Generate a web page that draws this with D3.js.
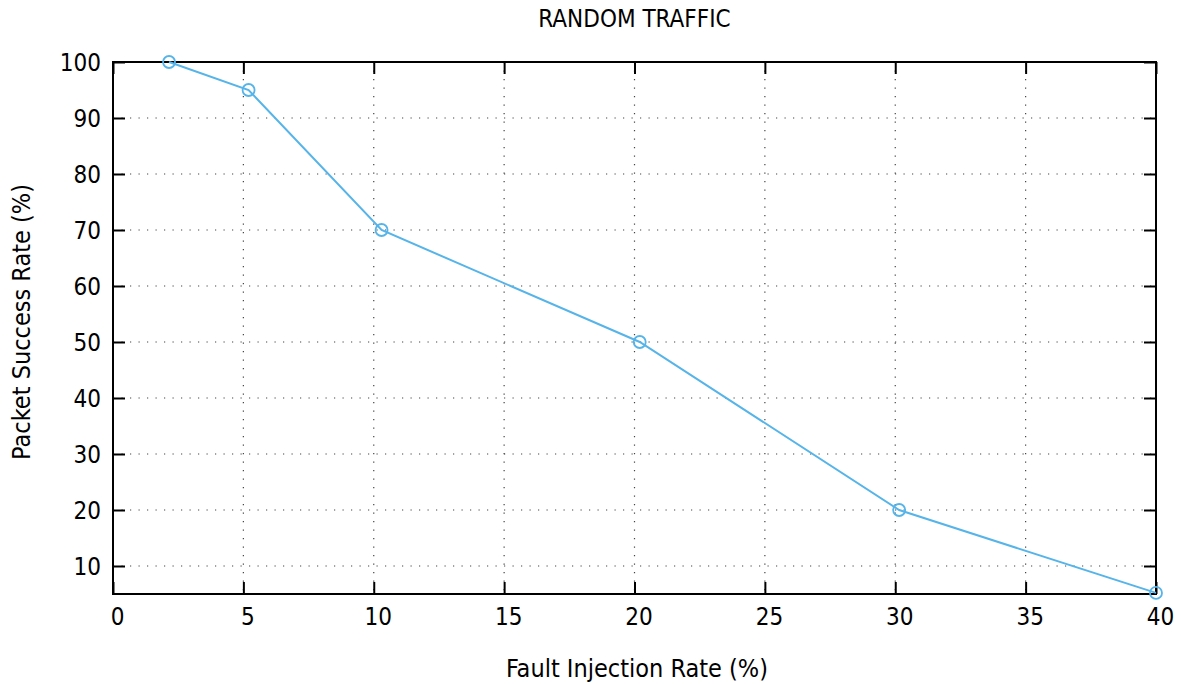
<!DOCTYPE html>
<html>
<head>
<meta charset="utf-8">
<script src="https://cdn.jsdelivr.net/npm/d3@7"></script>
<style>
  html, body { margin: 0; padding: 0; background: #fff; }
  svg { display: block; font-family: "DejaVu Sans Condensed", "DejaVu Sans", sans-serif; font-stretch: condensed; }
  text { fill: #000; }
</style>
</head>
<body>
<svg id="chart" width="1181" height="684"></svg>
<script>
// Packet success rate under random traffic as fault injection increases
const faultRate = [2.15, 5.2, 10.3, 20.2, 30.15, 40];
const successRate = [100, 95, 70, 50, 20, 5.2];
const xTicks = [0, 5, 10, 15, 20, 25, 30, 35, 40];
const yTicks = [10, 20, 30, 40, 50, 60, 70, 80, 90, 100];

const svg = d3.select("#chart");
const plotLeft = 113, plotRight = 1156, plotTop = 62, plotBottom = 594;
const fontSize = 24;
const labelSize = 25;

const x = d3.scaleLinear().domain([0, 40]).range([plotLeft, plotRight]);
const y = d3.scaleLinear().domain([5, 100]).range([plotBottom, plotTop]);

// dotted grid
const grid = svg.append("g")
  .attr("stroke", "#444").attr("stroke-width", 1.2)
  .attr("stroke-dasharray", "1.2,7.3");
grid.selectAll("line.gx").data(xTicks.filter(d => d > 0 && d < 40)).join("line")
  .attr("class", "gx")
  .attr("x1", d => x(d)).attr("x2", d => x(d))
  .attr("y1", plotTop).attr("y2", plotBottom);
grid.selectAll("line.gy").data(yTicks.filter(d => d < 100)).join("line")
  .attr("class", "gy")
  .attr("x1", plotLeft).attr("x2", plotRight)
  .attr("y1", d => y(d)).attr("y2", d => y(d));

// inward ticks on all four sides
const tickLen = 12;
const xAxisBottom = d3.axisBottom(x).tickValues(xTicks).tickSize(-tickLen).tickFormat(d3.format("d"));
const xAxisTop = d3.axisTop(x).tickValues(xTicks).tickSize(-tickLen).tickFormat("");
const yAxisLeft = d3.axisLeft(y).tickValues(yTicks).tickSize(-tickLen).tickFormat(d3.format("d"));
const yAxisRight = d3.axisRight(y).tickValues(yTicks).tickSize(-tickLen).tickFormat("");

function styleAxis(g) {
  g.attr("font-family", null).attr("font-size", null);
  g.select(".domain").remove();
  g.selectAll(".tick line").attr("stroke", "#000").attr("stroke-width", 2);
  g.selectAll(".tick text").attr("font-size", fontSize).attr("fill", "#000");
}

svg.append("g").attr("transform", `translate(0,${plotBottom})`).call(xAxisBottom).call(styleAxis)
  .call(g => g.selectAll(".tick text").attr("y", 14).attr("dx", 4).attr("dy", "0.71em"));
svg.append("g").attr("transform", `translate(0,${plotTop})`).call(xAxisTop).call(styleAxis);
svg.append("g").attr("transform", `translate(${plotLeft},0)`).call(yAxisLeft).call(styleAxis)
  .call(g => g.selectAll(".tick text").attr("x", -12).attr("dy", "0.35em"));
svg.append("g").attr("transform", `translate(${plotRight},0)`).call(yAxisRight).call(styleAxis);

// frame
svg.append("rect")
  .attr("x", plotLeft).attr("y", plotTop)
  .attr("width", plotRight - plotLeft).attr("height", plotBottom - plotTop)
  .attr("fill", "none").attr("stroke", "#000").attr("stroke-width", 2);

// data line and markers
const pts = faultRate.map((v, i) => [v, successRate[i]]);
svg.append("path")
  .datum(pts)
  .attr("fill", "none")
  .attr("stroke", "#56B4E9")
  .attr("stroke-width", 2)
  .attr("d", d3.line().x(d => x(d[0])).y(d => y(d[1])));
svg.append("g").selectAll("circle").data(pts).join("circle")
  .attr("cx", d => x(d[0])).attr("cy", d => y(d[1]))
  .attr("r", 6)
  .attr("fill", "none")
  .attr("stroke", "#56B4E9")
  .attr("stroke-width", 1.8);

// titles
svg.append("text")
  .attr("x", (plotLeft + plotRight) / 2).attr("y", 27)
  .attr("text-anchor", "middle").attr("font-size", fontSize)
  .text("RANDOM TRAFFIC");
svg.append("text")
  .attr("x", 637).attr("y", 677)
  .attr("text-anchor", "middle").attr("font-size", labelSize)
  .text("Fault Injection Rate (%)");
svg.append("text")
  .attr("transform", `translate(30,322) rotate(-90)`)
  .attr("text-anchor", "middle").attr("font-size", labelSize)
  .text("Packet Success Rate (%)");
</script>
</body>
</html>
